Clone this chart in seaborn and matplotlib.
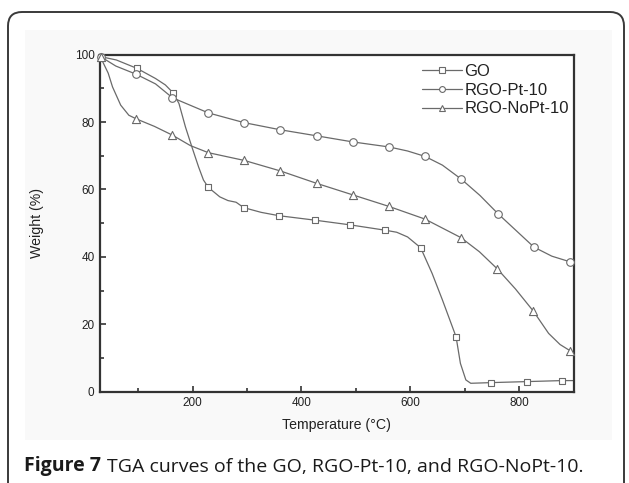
import numpy as np
import pandas as pd
import matplotlib
matplotlib.use("Agg")
import matplotlib.pyplot as plt
from matplotlib.lines import Line2D
from matplotlib.patches import FancyBboxPatch, Rectangle
from matplotlib.transforms import IdentityTransform
import seaborn as sns

# marker points (temperature in C, weight in %)
go_temp = [31, 98, 164, 229, 294, 359, 424, 489, 554, 619, 684, 749, 814, 879]
go_weight = [99.4, 95.9, 88.7, 60.6, 54.6, 52.2, 50.9, 49.5, 47.9, 42.7, 16.3, 2.7, 3.0, 3.3]
pt_temp = [31, 96, 163, 229, 295, 361, 428, 494, 561, 627, 694, 761, 827, 894]
pt_weight = [99.4, 94.2, 87.2, 82.7, 79.8, 77.7, 75.9, 74.1, 72.6, 69.8, 63.0, 52.8, 42.9, 38.5]
nopt_temp = [31, 97, 163, 229, 295, 361, 428, 494, 560, 627, 693, 760, 826, 893]
nopt_weight = [99.2, 80.9, 76.1, 70.9, 68.6, 65.5, 61.8, 58.4, 55.0, 51.2, 45.7, 36.4, 23.9, 12.2]

# extra points along the smoothed curves between the markers
go_curve_temp = [60, 132, 150, 175, 187, 199, 211, 220, 250, 265, 280, 326, 575, 595, 640, 659, 692, 702, 711, 900]
go_curve_weight = [98.4, 92.9, 91.0, 85.5, 78.5, 72.5, 66.7, 62.8, 57.8, 56.7, 56.2, 53.2, 47.3, 45.9, 35.1, 27.2, 8.4, 3.5, 2.5, 3.3]
pt_curve_temp = [59, 132, 595, 659, 728, 860, 900]
pt_curve_weight = [96.6, 91.3, 71.4, 67.2, 58.2, 40.2, 38.2]
nopt_curve_temp = [45, 53, 68, 83, 130, 196, 727, 793, 854, 875, 900]
nopt_curve_weight = [94.5, 90.4, 85.0, 82.0, 78.7, 73.0, 41.5, 30.5, 17.3, 14.0, 11.8]

labels = ["GO", "RGO-Pt-10", "RGO-NoPt-10"]

sns.set_theme(style="ticks")
plt.rcParams['font.family'] = ['Liberation Sans', 'DejaVu Sans']

line_col = "#6a6a6a"
dark = "#333333"

fig = plt.figure(figsize=(6.29, 4.83), dpi=100)
fig.patch.set_facecolor("white")

# light grey panel of the scanned figure and rounded frame
fig.add_artist(Rectangle((25, 483 - 440), 587, 410, transform=IdentityTransform(),
                         facecolor="#f9f9f9", edgecolor="none", zorder=-2))
fig.add_artist(FancyBboxPatch((8, -30), 616, 501, boxstyle="round,pad=0,rounding_size=14",
                              transform=IdentityTransform(), facecolor="none",
                              edgecolor="#3a3a3a", linewidth=1.4, zorder=-1))

ax = fig.add_axes([0.159, 0.189, 0.753, 0.698])
ax.set_facecolor("white")

series = [
    (go_temp, go_weight, go_curve_temp, go_curve_weight, "s", 24),
    (pt_temp, pt_weight, pt_curve_temp, pt_curve_weight, "o", 30),
    (nopt_temp, nopt_weight, nopt_curve_temp, nopt_curve_weight, "^", 34),
]
handles = []
for (mt, mw, ct, cw, mk, size), name in zip(series, labels):
    curve = pd.DataFrame({"temp": mt + ct, "weight": mw + cw}).sort_values("temp")
    sns.lineplot(data=curve, x="temp", y="weight", ax=ax, color=line_col,
                 linewidth=0.9, estimator=None, sort=True)
    sns.scatterplot(x=mt, y=mw, ax=ax, marker=mk, s=size, color="white",
                    edgecolor=line_col, linewidth=0.8, zorder=3, clip_on=False)
    handles.append(Line2D([], [], color=line_col, lw=0.9, marker=mk, markersize=4.2,
                          markerfacecolor="white", markeredgecolor=line_col, markeredgewidth=0.8))

ax.set_xlim(30, 900)
ax.set_ylim(0, 100)
ax.set_xticks([200, 400, 600, 800])
ax.set_xticks([100, 300, 500, 700], minor=True)
ax.set_yticks([0, 20, 40, 60, 80, 100])
ax.set_yticks([10, 30, 50, 70, 90], minor=True)
ax.tick_params(which="both", direction="in", colors=dark, labelsize=8.5, labelcolor="#222222",
               top=False, right=False, width=1.2)
ax.tick_params(which="major", length=4, pad=4)
ax.tick_params(which="minor", length=3)
for s in ax.spines.values():
    s.set_linewidth(1.6)
    s.set_color(dark)

ax.set_xlabel("Temperature (°C)", fontsize=10.2, color="#222222", labelpad=6)
ax.set_ylabel("Weight (%)", fontsize=10.2, color="#222222", labelpad=22)

ax.legend(handles, labels, loc="upper left", bbox_to_anchor=(0.68, 0.972), frameon=False,
          fontsize=12, handlelength=2.4, handletextpad=0.15, labelspacing=0.22,
          borderpad=0, borderaxespad=0, labelcolor="#222222")

cap_font = ["Open Sans", "DejaVu Sans"]
cap = fig.text(24 / 629, 1 - 476 / 483, "Figure 7", fontsize=14, fontweight="bold",
               family=cap_font, color="#1a1a1a", va="bottom")
ax.annotate("TGA curves of the GO, RGO-Pt-10, and RGO-NoPt-10.", xy=(1, 0), xycoords=cap,
            xytext=(4, 0), textcoords="offset points", fontsize=14, va="bottom",
            family=cap_font, color="#1a1a1a", annotation_clip=False)

fig.savefig("out.png", dpi=100)
